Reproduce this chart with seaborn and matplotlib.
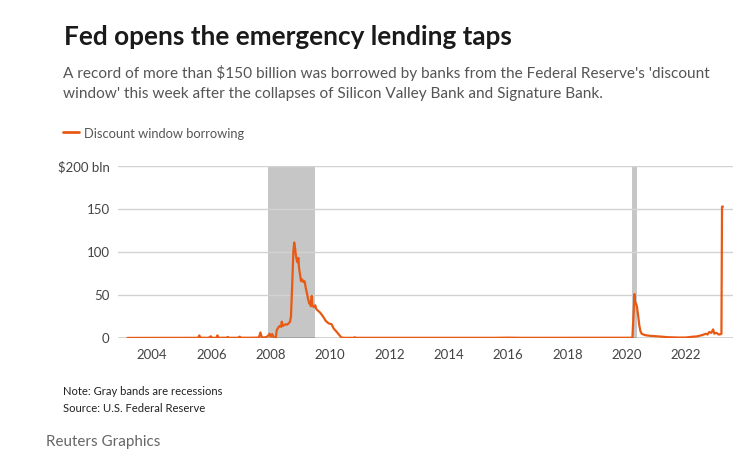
import matplotlib
matplotlib.use('Agg')
import matplotlib.pyplot as plt
import seaborn as sns
import pandas as pd

# 資料：每週貼現窗口借款（十億美元），以小數年表示時間
years = [2003.17, 2003.5, 2004.0, 2004.5, 2005.0, 2005.55, 2005.59, 2005.63, 2005.9,
         2005.98, 2006.02, 2006.17, 2006.2, 2006.24, 2006.5, 2006.55, 2006.6, 2006.9,
         2006.95, 2007.0, 2007.3, 2007.6, 2007.65, 2007.7, 2007.85, 2007.92, 2007.96,
         2008.0, 2008.05, 2008.1, 2008.17, 2008.2, 2008.25, 2008.3, 2008.35, 2008.37,
         2008.4, 2008.45, 2008.5, 2008.55, 2008.6, 2008.65, 2008.68, 2008.72, 2008.76,
         2008.79, 2008.82, 2008.85, 2008.88, 2008.9, 2008.93, 2008.95, 2008.98, 2009.02,
         2009.06, 2009.1, 2009.14, 2009.18, 2009.22, 2009.26, 2009.3, 2009.33, 2009.35,
         2009.38, 2009.4, 2009.45, 2009.5, 2009.53, 2009.58, 2009.65, 2009.72, 2009.8,
         2009.85, 2009.95, 2010.05, 2010.12, 2010.2, 2010.27, 2010.32, 2010.38, 2010.5,
         2010.8, 2010.83, 2010.86, 2011.5, 2012.5, 2013.5, 2014.5, 2015.5, 2016.0,
         2016.5, 2017.5, 2018.5, 2019.5, 2020.1, 2020.19, 2020.23, 2020.26, 2020.28,
         2020.31, 2020.34, 2020.36, 2020.39, 2020.42, 2020.46, 2020.5, 2020.6, 2020.67,
         2020.8, 2021.0, 2021.2, 2021.33, 2021.55, 2021.78, 2022.0, 2022.22, 2022.35,
         2022.44, 2022.55, 2022.67, 2022.72, 2022.78, 2022.85, 2022.91, 2022.95, 2022.98,
         2023.02, 2023.06, 2023.1, 2023.17, 2023.19, 2023.21, 2023.24]
borrowing = [0.1, 0.1, 0.1, 0.1, 0.2, 0.2, 3.0, 0.3, 0.2,
             2.0, 0.2, 0.3, 3.0, 0.3, 0.3, 1.2, 0.2, 0.3,
             1.5, 0.3, 0.3, 0.5, 6.5, 0.5, 1.0, 3.0, 5.0,
             1.5, 4.5, 0.5, 0.5, 9.0, 12.0, 14.0, 13.0, 19.0,
             14.0, 15.0, 16.0, 15.5, 17.0, 19.0, 25.0, 60.0, 100.0,
             111.0, 104.0, 95.0, 90.0, 88.0, 93.0, 82.0, 75.0, 66.0,
             68.0, 65.0, 66.0, 58.0, 52.0, 45.0, 40.0, 42.0, 37.0,
             49.0, 38.0, 36.0, 38.0, 34.0, 32.0, 30.0, 27.0, 23.0,
             20.0, 17.0, 16.0, 11.0, 8.0, 5.0, 3.0, 0.5, 0.2,
             0.2, 0.9, 0.2, 0.2, 0.2, 0.2, 0.2, 0.2, 0.4,
             0.2, 0.2, 0.2, 0.2, 0.2, 0.3, 28.0, 51.0, 42.0,
             40.0, 37.0, 32.0, 24.0, 15.0, 8.0, 5.0, 3.5, 3.0,
             2.5, 2.0, 1.5, 1.0, 0.7, 0.5, 0.6, 1.5, 1.8,
             2.5, 3.5, 5.0, 4.0, 7.0, 6.0, 10.0, 5.0, 5.5,
             6.0, 5.0, 4.0, 4.5, 5.0, 152.8, 152.8]

recession_start = [2007.92, 2020.17]
recession_end = [2009.5, 2020.33]

year_ticks = [2004, 2006, 2008, 2010, 2012, 2014, 2016, 2018, 2020, 2022]
value_ticks = [0, 50, 100, 150, 200]
value_labels = ['0', '50', '100', '150', '$200 bln']

df = pd.DataFrame({'year': years, 'borrowing': borrowing})

sns.set_theme(style='white')
plt.rcParams['font.family'] = ['Lato', 'DejaVu Sans']

W, H = 753, 465
fig = plt.figure(figsize=(W / 100, H / 100), dpi=100)
ax = fig.add_axes([118 / W, 1 - 338 / H, 615 / W, 172 / H])

orange = '#e85a14'

for s, e in zip(recession_start, recession_end):
    ax.axvspan(s, e, color='#c6c6c6', lw=0, zorder=0)

for v in value_ticks[1:]:
    ax.axhline(v, color='#d2d2d2', lw=1, zorder=1)

sns.lineplot(data=df, x='year', y='borrowing', ax=ax, color=orange, lw=1.6,
             sort=False, zorder=3)
ax.axhline(0, color='#222222', lw=1, zorder=2)

ax.set_xlim(2002.85, 2023.58)
ax.set_ylim(0, 200)
ax.set_xticks(year_ticks)
ax.set_xticklabels([str(y) for y in year_ticks])
ax.set_yticks(value_ticks)
ax.set_yticklabels(value_labels)
ax.tick_params(axis='both', length=0, labelsize=9.5, labelcolor='#444444')
ax.tick_params(axis='x', pad=8)
ax.tick_params(axis='y', pad=6)
ax.set_xlabel('')
ax.set_ylabel('')
for sp in ax.spines.values():
    sp.set_visible(False)

def px(x, y):
    return x / W, 1 - y / H

# 標題與說明
fig.text(*px(64, 45), 'Fed opens the emergency lending taps', fontsize=18.8,
         fontweight='bold', color='#1a1a1a', va='baseline', ha='left')
fig.text(*px(63, 78.3), "A record of more than $150 billion was borrowed by banks from the Federal Reserve's 'discount",
         fontsize=11.1, color='#555555', va='baseline', ha='left')
fig.text(*px(63, 98.3), "window' this week after the collapses of Silicon Valley Bank and Signature Bank.",
         fontsize=11.1, color='#555555', va='baseline', ha='left')

# 圖例
fig.add_artist(plt.Line2D([63 / W, 79 / W], [1 - 132.5 / H] * 2, color=orange, lw=2))
fig.text(*px(84, 138.5), 'Discount window borrowing', fontsize=9.3, color='#555555',
         va='baseline', ha='left')

# 註解
fig.text(*px(63, 395), 'Note: Gray bands are recessions', fontsize=8.15, color='#222222',
         va='baseline', ha='left')
fig.text(*px(63, 411.7), 'Source: U.S. Federal Reserve', fontsize=8.15, color='#222222',
         va='baseline', ha='left')
fig.text(*px(46, 446), 'Reuters Graphics', fontsize=10.9, color='#666666',
         va='baseline', ha='left')

fig.savefig('out.png', dpi=100)
